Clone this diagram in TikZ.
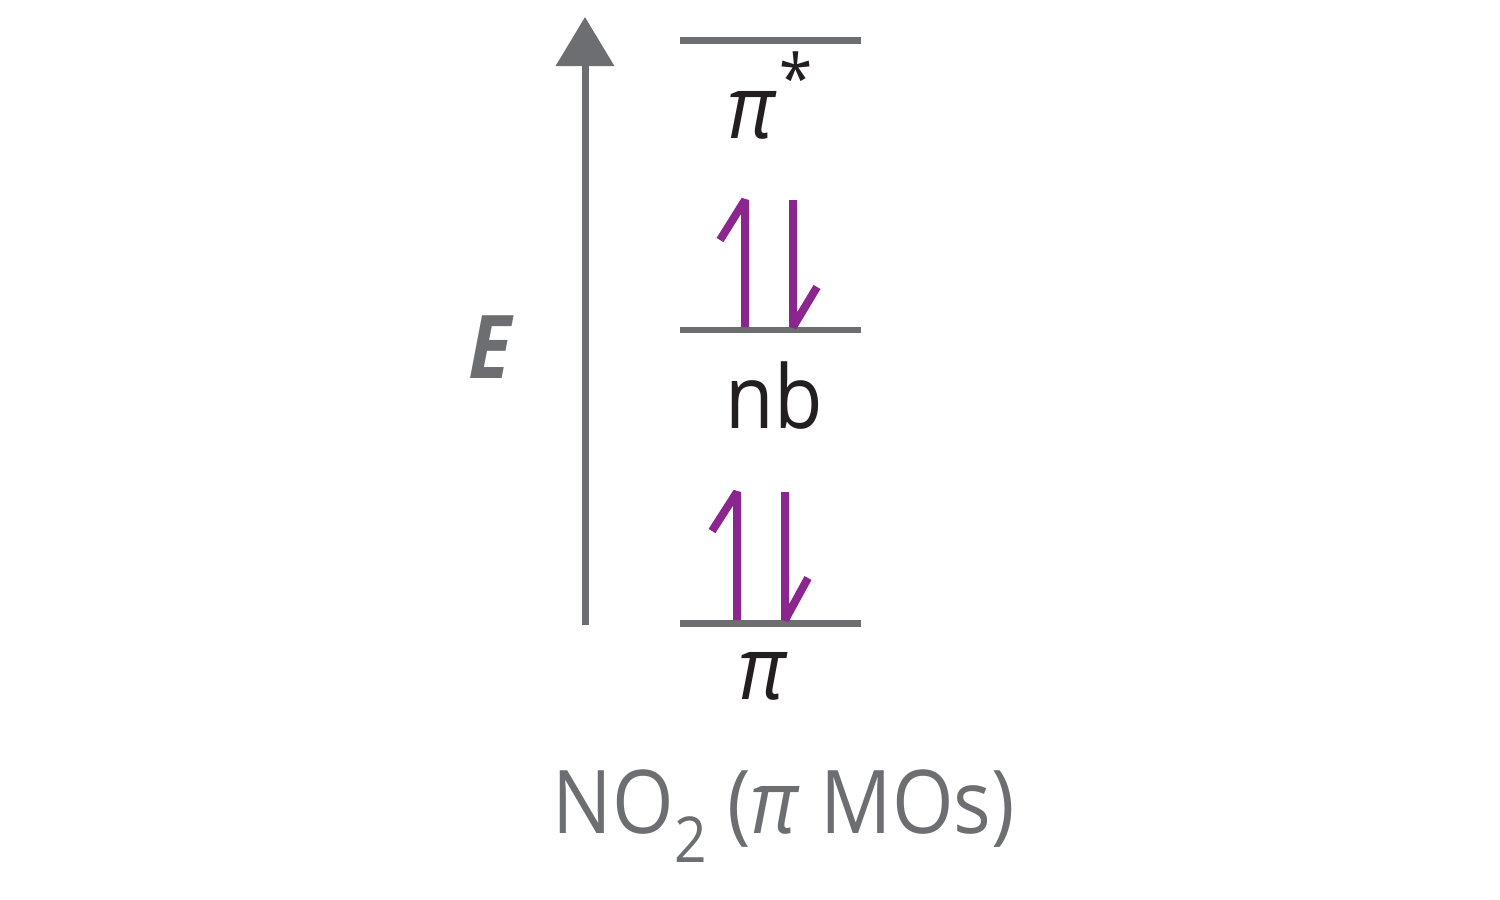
\documentclass[tikz,border=0pt]{standalone}
\usepackage{fontspec}
\setmainfont{Open Sans}[FakeStretch=0.9]
\usepackage{tikz}
\usetikzlibrary{arrows.meta}

\definecolor{levelgray}{RGB}{109,110,113}
\definecolor{spinpurple}{RGB}{138,38,142}
\definecolor{labelblack}{RGB}{35,31,32}

\tikzset{
  level/.style={levelgray, line width=0.065cm},
  spin/.style={spinpurple, line width=0.08cm, line join=bevel},
  orblabel/.style={labelblack, inner sep=0pt, font=\fontsize{25}{30}\selectfont},
}

\begin{document}
\begin{tikzpicture}[x=0.01cm, y=-0.01cm]
    \useasboundingbox (0,0) rectangle (1500,900);
    % energy axis
    \coordinate (axisbot) at (585,625);
    \coordinate (axistop) at (585,17);
    \draw[levelgray, line width=0.07cm, -{Triangle[width=0.57cm, length=0.49cm]}] (axisbot) -- (axistop);
    \node[levelgray, inner sep=0pt, font=\fontsize{25}{30}\selectfont\bfseries\itshape] (elabel) at (490,347) {E};

    % levels
    \draw[level] (680,40.5) -- (861,40.5);
    \draw[level] (680,330) -- (861,330);
    \draw[level] (680,623.5) -- (861,623.5);

    % labels
    \node[orblabel, font=\fontsize{25}{30}\selectfont\itshape] (pistar) at (751,115) {π};
    \node[orblabel, font=\fontsize{19}{22}\selectfont] (star) at (796,77) {*};
    \node[orblabel] (nb) at (774,396) {nb};
    \node[orblabel, font=\fontsize{25}{30}\selectfont\itshape] (pi) at (762,676) {π};

    % electrons in nb
    \draw[spin] (745,327) -- (745,200) -- (720,240);
    \draw[spin] (793,200) -- (793,327) -- (817,287);
    % electrons in pi
    \draw[spin] (737,620) -- (737,492) -- (712,531);
    \draw[spin] (785,492) -- (785,620) -- (808,578);

    \node[levelgray, inner sep=0pt, font=\fontsize{25}{30}\selectfont] (title) at (784,816)
        {NO\raisebox{-0.33em}{\fontsize{18}{20}\selectfont 2} (\textit{π} MOs)};
\end{tikzpicture}
\end{document}
